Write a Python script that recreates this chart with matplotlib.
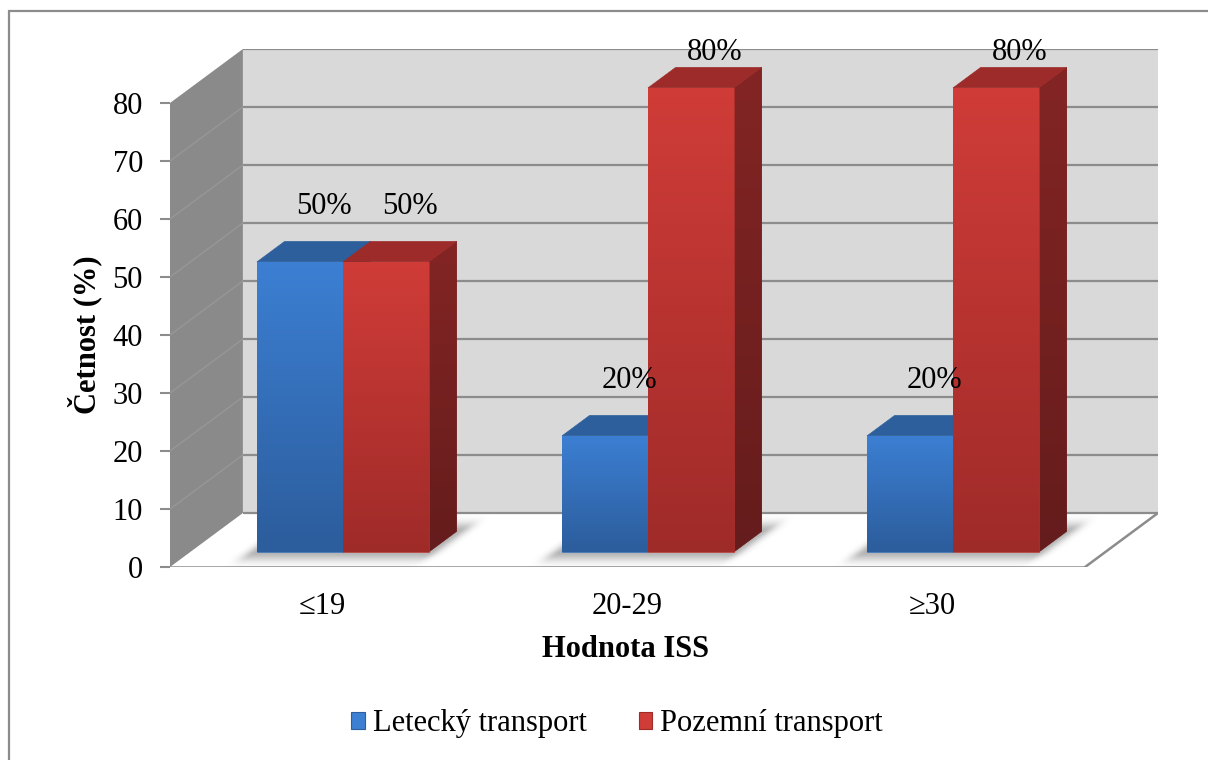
import numpy as np
import matplotlib
matplotlib.use("Agg")
import matplotlib.pyplot as plt
from matplotlib.patches import Polygon, Patch, Rectangle
from matplotlib.colors import to_rgb

# ---- data -------------------------------------------------------------
categories = ["≤19", "20-29", "≥30"]
series_names = ["Letecký transport", "Pozemní transport"]
letecky = [50, 20, 20]
pozemni = [50, 80, 80]
y_ticks = [0, 10, 20, 30, 40, 50, 60, 70, 80]

# ---- style ------------------------------------------------------------
plt.rcParams["font.family"] = ["Liberation Serif", "DejaVu Serif"]
FS = 22

# face colours per series: (front top, front bottom, top face, side top, side bottom)
BLUE = ("#3c7fd3", "#2c5d9c", "#2c5f9b", "#264f84", "#1f416d")
RED = ("#d03c38", "#9f2b29", "#9c2b29", "#832524", "#651c1c")
series_values = [letecky, pozemni]
series_colors = [BLUE, RED]

WALL_SIDE = "#8a8a8a"
WALL_BACK = "#d9d9d9"
GRID = "#8c8c8c"

W, H = 1208, 760
fig = plt.figure(figsize=(W / 100, H / 100), dpi=100)
fig.patch.set_facecolor("white")

n = len(categories)
y_max = y_ticks[-1]
DX = 0.239    # horizontal shift of the back plane (category units)
DY = 9.31     # vertical shift of the back plane (value units)

ax = fig.add_axes([170 / W, 1 - 567 / H, 988 / W, 518 / H])
ax.patch.set_visible(False)
for sp in ax.spines.values():
    sp.set_visible(False)


def P(x, v, d):
    """Oblique projection: category x, value v, depth d (0 front, 1 back)."""
    return (x + d * DX, v + d * DY)


def flat(verts, color, z, **kw):
    ax.add_patch(Polygon(verts, closed=True, facecolor=color,
                         edgecolor=kw.pop("ec", "none"), lw=kw.pop("lw", 0),
                         zorder=z, **kw))


def gradient(verts, c_top, c_bot, z):
    top = np.array(to_rgb(c_top))
    bot = np.array(to_rgb(c_bot))
    mid = (top + bot) / 2
    base = Polygon(verts, closed=True, facecolor=mid, edgecolor=mid,
                   lw=0.4, zorder=z)
    ax.add_patch(base)
    xs, ys = zip(*verts)
    g = np.linspace(0, 1, 128)[:, None, None]
    img = top[None, None, :] * (1 - g) + bot[None, None, :] * g
    im = ax.imshow(img, extent=[min(xs), max(xs), min(ys), max(ys)],
                   origin="upper", aspect="auto", interpolation="bilinear",
                   zorder=z + 0.01)
    im.set_clip_path(base)


# ---- walls and floor ---------------------------------------------------
floor = [P(0, 0, 0), P(n, 0, 0), P(n, 0, 1), P(0, 0, 1)]
flat(floor, "white", 1)
flat([P(0, 0, 0), P(0, y_max, 0), P(0, y_max, 1), P(0, 0, 1)], WALL_SIDE, 1)
flat([P(0, 0, 1), P(n, 0, 1), P(n, y_max, 1), P(0, y_max, 1)], WALL_BACK, 1)

for t in y_ticks:
    (xa, ya), (xb, yb) = P(0, t, 1), P(n, t, 1)
    ax.plot([xa, xb], [ya, yb], color=GRID, lw=1.6, zorder=2,
            solid_capstyle="butt")
    if 0 < t < y_max:
        (xa, ya), (xb, yb) = P(0, t, 0), P(0, t, 1)
        ax.plot([xa, xb], [ya, yb], color="#979797", lw=1.0, zorder=2)

for a, b in [(P(0, 0, 0), P(n, 0, 0)), (P(n, 0, 0), P(n, 0, 1))]:
    ax.plot([a[0], b[0]], [a[1], b[1]], color=GRID, lw=1.8, zorder=2,
            solid_capstyle="round")

# ---- bars ---------------------------------------------------------------
bar_w = 0.282
d_front, d_back = 0.28, 0.66

# soft shadow of each bar group on the floor
sx = np.linspace(0, n + DX, 600)
sy = np.linspace(0, DY, 120)
GX, GY = np.meshgrid(sx, sy)
depth = GY / DY
X = GX - depth * DX
alpha = np.zeros_like(GX)
for i in range(n):
    c = i + 0.5
    ex = np.maximum(0, np.abs(X - c) - bar_w) * 305
    ed = np.maximum(0, np.maximum(d_front - depth, depth - d_back)) * 60
    dist = np.hypot(ex, ed)
    alpha = np.maximum(alpha, 0.3 * np.exp(-(dist / 10.0) ** 2))
shadow = np.zeros(GX.shape + (4,))
shadow[..., 3] = alpha
floor_clip = Polygon(floor, closed=True, facecolor="none", edgecolor="none")
ax.add_patch(floor_clip)
sim = ax.imshow(shadow, extent=[0, n + DX, 0, DY], origin="lower",
                aspect="auto", interpolation="bilinear", zorder=3)
sim.set_clip_path(floor_clip)

for i in range(n):
    for s, (vals, col) in enumerate(zip(series_values, series_colors)):
        v = vals[i]
        x0 = i + 0.5 - bar_w + s * bar_w
        x1 = x0 + bar_w
        z = 4 + s
        side = [P(x1, 0, d_front), P(x1, 0, d_back),
                P(x1, v, d_back), P(x1, v, d_front)]
        gradient(side, col[3], col[4], z)
        front = [P(x0, 0, d_front), P(x1, 0, d_front),
                 P(x1, v, d_front), P(x0, v, d_front)]
        gradient(front, col[0], col[1], z + 0.1)
        top = [P(x0, v, d_front), P(x1, v, d_front),
               P(x1, v, d_back), P(x0, v, d_back)]
        flat(top, col[2], z + 0.1, ec=col[2], lw=0.4)

        # value label above the bar, kept inside the chart area
        lx, _ = P(x0 + bar_w / 2, v, d_back - 0.05)
        ly = min(v + d_back * DY + 6.0, y_max + DY - 0.6)
        ax.text(lx, ly, f"{v}%", ha="center", va="center", fontsize=FS,
                color="black", zorder=10, clip_on=False)

# ---- axes ---------------------------------------------------------------
ax.set_xlim(0, n + DX)
ax.set_ylim(0, y_max + DY)
ax.set_yticks(y_ticks)
ax.set_yticklabels([str(t) for t in y_ticks])
ax.set_xticks([i + 0.5 for i in range(n)])
ax.set_xticklabels(categories)
ax.tick_params(axis="y", length=7.5, width=1.5, color=GRID, pad=12,
               labelsize=FS, direction="out")
ax.tick_params(axis="x", length=0, pad=18, labelsize=FS)

ax.set_ylabel("Četnost (%)", fontsize=FS, fontweight="bold", va="center")
ax.yaxis.set_label_coords(-0.086, 0.448)
ax.set_xlabel("Hodnota ISS", fontsize=FS, fontweight="bold", va="center")
ax.xaxis.set_label_coords(0.4615, -0.16)

# ---- legend -------------------------------------------------------------
handles = [Patch(facecolor=BLUE[0], edgecolor=BLUE[1], lw=0.8),
           Patch(facecolor=RED[0], edgecolor=RED[1], lw=0.8)]
fig.legend(handles=handles, labels=series_names, loc="center",
           bbox_to_anchor=(617 / W, 1 - 724 / H), ncol=2, frameon=False,
           fontsize=FS, handlelength=0.45, handleheight=0.45,
           handletextpad=0.25, columnspacing=1.7)

# outer chart frame
fig.add_artist(Rectangle((9 / W, -0.2), 1.5, 1.2 - 11 / H,
                         transform=fig.transFigure, fill=False,
                         edgecolor="#8c8c8c", lw=1.6, clip_on=False))

fig.savefig("out.png", dpi=100)
